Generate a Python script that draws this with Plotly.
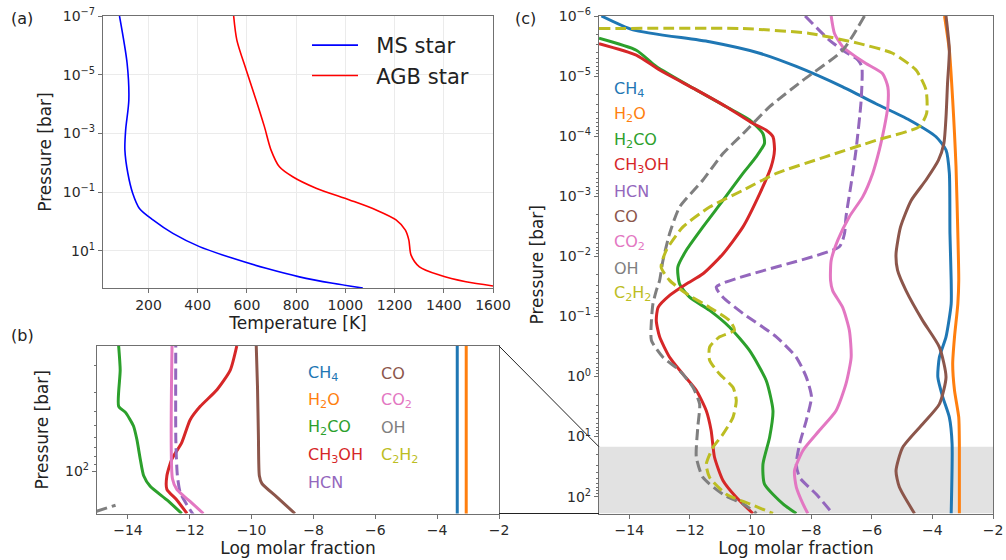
import numpy as np
import plotly.graph_objects as go

# ---------------- data ----------------
# Panel (a): temperature profiles (T in K, log10 pressure in bar)
ms_T = [82, 113, 120, 107, 104, 116, 136, 163, 218, 299, 407, 543, 678, 813, 949, 1071]
ms_logp = [-7, -5.39, -4.14, -3.11, -2.43, -1.64, -0.95, -0.44, -0.05, 0.41, 0.86, 1.26, 1.60, 1.89, 2.11, 2.27]
agb_T = [546, 559, 597, 637, 671, 698, 732, 786, 881, 1017, 1125, 1206, 1244, 1258, 1267, 1301, 1382, 1490, 1600]
agb_logp = [-7, -6.18, -5.16, -4.14, -3.23, -2.43, -1.86, -1.52, -1.13, -0.73, -0.39, -0.05, 0.30, 0.64, 1.15, 1.55, 1.83, 2.06, 2.20]

species = ["CH4", "H2O", "H2CO", "CH3OH", "HCN", "CO", "CO2", "OH", "C2H2"]
species_labels = ["CH<sub>4</sub>", "H<sub>2</sub>O", "H<sub>2</sub>CO", "CH<sub>3</sub>OH", "HCN",
                  "CO", "CO<sub>2</sub>", "OH", "C<sub>2</sub>H<sub>2</sub>"]

# Panel (b): log molar fraction vs log10 pressure (deep zoom)
b_ch4_x = [-3.35, -3.35];  b_ch4_lp = [1.0, 2.4]
b_h2o_x = [-3.06, -3.06];  b_h2o_lp = [1.0, 2.4]
b_h2co_x = [-14.30, -14.25, -14.30, -14.08, -13.82, -13.71, -13.60, -13.49, -13.28, -12.74, -12.26]
b_h2co_lp = [1.17, 1.33, 1.57, 1.61, 1.70, 1.79, 1.92, 2.03, 2.10, 2.19, 2.28]
b_ch3oh_x = [-10.48, -10.69, -11.12, -11.66, -11.99, -12.26, -12.58, -12.74, -12.74, -12.42, -12.09]
b_ch3oh_lp = [1.17, 1.33, 1.46, 1.57, 1.66, 1.81, 1.92, 2.03, 2.12, 2.19, 2.28]
b_hcn_x = [-12.45, -12.45, -12.40, -12.31, -12.10, -11.88]
b_hcn_lp = [1.0, 1.80, 2.03, 2.14, 2.22, 2.29]
b_co_x = [-9.85, -9.81, -9.78, -9.75, -9.67, -9.19, -8.60]
b_co_lp = [1.17, 1.44, 1.77, 2.03, 2.08, 2.17, 2.28]
b_co2_x = [-12.56, -12.56, -12.42, -11.99, -11.56]
b_co2_lp = [1.0, 2.05, 2.12, 2.20, 2.28]
b_oh_x = [-16.0, -14.4]
b_oh_lp = [2.33, 2.225]

# Panel (c): log molar fraction vs log10 pressure
c_ch4_x = [-14.92, -13.88, -11.35, -9.70, -8.49, -6.96, -5.86, -4.76, -3.88, -3.55, -3.44, -3.42, -3.38,
           -3.38, -3.55, -3.77, -3.82, -3.66, -3.44, -3.35, -3.38]
c_ch4_lp = [-6, -5.77, -5.57, -5.38, -5.16, -4.82, -4.54, -4.27, -3.99, -3.77, -3.38, -2.38, -1.6,
            -1.21, -0.66, -0.32, 0.01, 0.34, 0.68, 1.12, 2.28]
c_h2o_x = [-3.60, -3.44, -3.33, -3.27, -3.22, -3.16, -3.13, -3.16, -3.27, -3.33, -3.27, -3.13, -3.11, -3.11]
c_h2o_lp = [-6, -5.43, -4.6, -4.04, -3.49, -2.38, -1.6, -1.21, -0.66, -0.21, 0.23, 0.68, 1.12, 2.28]
c_h2co_x = [-15, -13.77, -13.11, -11.79, -10.80, -10.03, -9.59, -9.54, -9.81, -10.25, -10.91, -11.57, -12.12,
            -12.40, -12.34, -12.01, -11.35, -10.69, -10.03, -9.48, -9.26, -9.37, -9.59, -9.54, -8.93, -8.49]
c_h2co_lp = [-5.63, -5.43, -5.16, -4.77, -4.49, -4.27, -4.04, -3.88, -3.66, -3.38, -2.93, -2.49, -2.10,
             -1.82, -1.54, -1.32, -1.1, -0.82, -0.43, 0.07, 0.57, 1.01, 1.46, 1.79, 2.12, 2.28]
c_ch3oh_x = [-15, -13.77, -13.0, -11.79, -10.80, -9.92, -9.48, -9.26, -9.21, -9.32, -9.70, -10.25, -10.91,
             -11.57, -12.12, -12.67, -13.05, -13.11, -13.0, -12.67, -12.23, -11.79, -11.46, -11.30, -11.19,
             -10.91, -10.47, -9.92]
c_ch3oh_lp = [-5.54, -5.35, -5.1, -4.77, -4.49, -4.21, -4.1, -3.99, -3.77, -3.49, -3.04, -2.49, -2.04,
              -1.71, -1.54, -1.35, -1.15, -0.93, -0.66, -0.32, -0.04, 0.23, 0.57, 0.9, 1.34,
              1.73, 2.01, 2.28]
c_hcn_x = [-8.20, -7.40, -6.96, -6.46, -6.33, -6.35, -6.52, -6.68, -6.85, -6.90, -7.07, -11.13, -10.91,
           -10.25, -9.15, -8.49, -8.16, -7.99, -8.16, -8.38, -8.49, -8.38, -7.83, -7.29]
c_hcn_lp = [-6.0, -5.6, -5.43, -5.27, -5.16, -4.6, -3.77, -3.21, -2.66, -2.38, -2.16, -1.49, -1.32,
            -1.05, -0.66, -0.32, 0.01, 0.34, 0.73, 1.12, 1.46, 1.68, 1.96, 2.28]
c_co_x = [-3.55, -3.44, -3.50, -3.55, -3.62, -3.80, -4.21, -4.70, -5.05, -5.2, -5.15, -4.87, -4.32, -3.77,
          -3.55, -3.77, -4.32, -4.98, -5.2, -5.09, -4.59]
c_co_lp = [-6, -5.43, -4.88, -4.32, -3.88, -3.6, -3.27, -2.93, -2.49, -2.04, -1.77, -1.43, -0.93, -0.49,
           0.01, 0.46, 0.79, 1.18, 1.57, 1.84, 2.28]
c_co2_x = [-7.34, -7.23, -6.96, -6.52, -6.19, -5.64, -5.47, -5.47, -5.58, -5.75, -5.97, -6.3, -6.74, -7.12,
           -7.34, -7.36, -7.29, -6.96, -6.74, -6.68, -6.85, -7.18, -7.73, -8.27, -8.55, -8.49, -8.27, -8.11]
c_co2_lp = [-6, -5.71, -5.49, -5.32, -5.21, -5.04, -4.82, -4.49, -4.16, -3.77, -3.38, -2.99, -2.66, -2.27,
            -1.93, -1.6, -1.43, -1.15, -0.77, -0.32, 0.12, 0.57, 0.9, 1.23, 1.57, 1.84, 2.12, 2.28]
c_oh_x = [-6.24, -6.96, -8.27, -9.37, -10.25, -10.91, -11.57, -12.34, -12.67, -12.89, -13.0, -13.11, -13.22,
          -13.27, -13.27, -12.89, -12.34, -11.90, -11.68, -11.74, -11.79, -11.57, -10.91, -10.25, -9.8]
c_oh_lp = [-6, -5.43, -4.93, -4.49, -4.04, -3.71, -3.27, -2.82, -2.38, -1.93, -1.6, -1.43, -1.21,
           -0.93, -0.6, -0.32, -0.1, 0.18, 0.46, 0.84, 1.34, 1.68, 1.96, 2.12, 2.28]
c_c2h2_x = [-15, -10.25, -8.05, -6.40, -5.31, -4.54, -4.21, -4.19, -4.43, -5.86, -7.51, -9.15, -10.25, -11.35,
            -12.23, -12.78, -12.95, -12.67, -12.12, -11.35, -10.69, -10.53, -11.02, -11.35, -11.35, -11.02,
            -10.58, -10.47, -10.58, -10.91, -11.24, -11.46, -11.35, -10.80, -10.03, -9.26]
c_c2h2_lp = [-5.79, -5.79, -5.71, -5.54, -5.38, -5.1, -4.77, -4.38, -4.16, -3.93, -3.66, -3.38, -3.1, -2.82,
             -2.49, -2.1, -1.82, -1.6, -1.38, -1.15, -0.93, -0.77, -0.66, -0.49, -0.27, -0.04,
             0.18, 0.4, 0.68, 0.96, 1.18, 1.46, 1.68, 1.96, 2.12, 2.28]

# axis ranges (log10 pressure) and shaded zoom window
a_lp_range = [-7, 2.27]
b_lp_range = [1.17, 2.28]
c_lp_range = [-6, 2.28]
zoom_lp = [1.17, 2.28]
temp_range = [15, 1600]
frac_range = [-15, -2]

temp_ticks = [200, 400, 600, 800, 1000, 1200, 1400, 1600]
frac_ticks = [-14, -12, -10, -8, -6, -4, -2]
a_p_ticks = [-7, -5, -3, -1, 1]
b_p_ticks = [2]
c_p_ticks = [-6, -5, -4, -3, -2, -1, 0, 1, 2]

# ---------------- styling ----------------
FONT = "DejaVu Sans, Arial, sans-serif"
col = {"CH4": "#1f77b4", "H2O": "#ff7f0e", "H2CO": "#2ca02c", "CH3OH": "#d62728", "HCN": "#9467bd",
       "CO": "#8c564b", "CO2": "#e377c2", "OH": "#7f7f7f", "C2H2": "#bcbd22"}
dashed = {"HCN", "OH", "C2H2"}
AX = "#707070"

W, H = 1006, 560
def px2x(px): return px / W
def py2y(py): return 1 - py / H

dom_a = dict(x=[px2x(103), px2x(493)], y=[py2y(288), py2y(16)])
dom_b = dict(x=[px2x(97), px2x(499)], y=[py2y(513.5), py2y(346)])
dom_c = dict(x=[px2x(599), px2x(993)], y=[py2y(513.5), py2y(16)])

fig = go.Figure()

def P(lp):
    return [10 ** v for v in lp]

NB = "\u00a0\u00a0"
# panel (a)
fig.add_trace(go.Scatter(x=ms_T, y=P(ms_logp), mode="lines", name=NB + "MS star",
                         line=dict(color="#0000ff", width=1.6, shape="spline", smoothing=0.8),
                         xaxis="x", yaxis="y"))
fig.add_trace(go.Scatter(x=agb_T, y=P(agb_logp), mode="lines", name=NB + "AGB star",
                         line=dict(color="#ff0000", width=1.6, shape="spline", smoothing=0.8),
                         xaxis="x", yaxis="y"))

b_data = {"CH4": (b_ch4_x, b_ch4_lp), "H2O": (b_h2o_x, b_h2o_lp), "H2CO": (b_h2co_x, b_h2co_lp),
          "CH3OH": (b_ch3oh_x, b_ch3oh_lp), "HCN": (b_hcn_x, b_hcn_lp), "CO": (b_co_x, b_co_lp),
          "CO2": (b_co2_x, b_co2_lp), "OH": (b_oh_x, b_oh_lp)}
c_data = {"CH4": (c_ch4_x, c_ch4_lp), "H2O": (c_h2o_x, c_h2o_lp), "H2CO": (c_h2co_x, c_h2co_lp),
          "CH3OH": (c_ch3oh_x, c_ch3oh_lp), "HCN": (c_hcn_x, c_hcn_lp), "CO": (c_co_x, c_co_lp),
          "CO2": (c_co2_x, c_co2_lp), "OH": (c_oh_x, c_oh_lp), "C2H2": (c_c2h2_x, c_c2h2_lp)}

for data, xa, ya in [(b_data, "x2", "y2"), (c_data, "x3", "y3")]:
    for sp in species:
        if sp not in data:
            continue
        xs, lps = data[sp]
        fig.add_trace(go.Scatter(
            x=xs, y=P(lps), mode="lines", showlegend=False, name=sp,
            line=dict(color=col[sp], width=3, shape="spline", smoothing=0.6,
                      dash="11px,5px" if sp in dashed else "solid"),
            xaxis=xa, yaxis=ya, cliponaxis=True))

# ---------------- axes ----------------
def sup(v):
    s = str(v).replace("-", "\u2212")
    return f"10<sup>{s}</sup>"

def minor_vals(lo, hi):
    vals = []
    for k in range(int(np.floor(lo)), int(np.ceil(hi)) + 1):
        for d in range(2, 10):
            v = d * 10.0 ** k
            if lo <= np.log10(v) <= hi:
                vals.append(v)
    return vals

base = dict(showline=True, linecolor=AX, linewidth=1.3, mirror=True, ticks="outside", ticklen=4,
            tickcolor=AX, tickwidth=1, zeroline=False, automargin=False,
            tickfont=dict(family=FONT, size=14, color="#2a2a2a"))
title_font = dict(family=FONT, size=17, color="#222")

fig.update_layout(
    xaxis=dict(base, domain=dom_a["x"], range=temp_range, tickvals=temp_ticks, anchor="y",
               showgrid=True, gridcolor="#ebebeb", gridwidth=1,
               title=dict(text="Temperature [K]", font=title_font, standoff=2)),
    yaxis=dict(base, domain=dom_a["y"], type="log", range=a_lp_range[::-1], anchor="x",
               tickvals=[10 ** v for v in a_p_ticks], ticktext=[sup(v) for v in a_p_ticks],
               showgrid=True, gridcolor="#ebebeb", gridwidth=1,
               title=dict(text="Pressure [bar]", font=title_font, standoff=6)),
    xaxis2=dict(base, domain=dom_b["x"], range=frac_range, tickvals=frac_ticks,
                ticktext=[str(v).replace("-", "\u2212") for v in frac_ticks], anchor="y2",
                showgrid=False, title=dict(text="Log molar fraction", font=title_font, standoff=2)),
    yaxis2=dict(base, domain=dom_b["y"], type="log", range=b_lp_range[::-1], anchor="x2",
                tickvals=[10 ** v for v in b_p_ticks], ticktext=[sup(v) for v in b_p_ticks],
                minor=dict(ticks="outside", ticklen=2, tickcolor=AX, tickvals=minor_vals(*b_lp_range)),
                showgrid=False, title=dict(text="Pressure [bar]", font=title_font, standoff=12)),
    xaxis3=dict(base, domain=dom_c["x"], range=frac_range, tickvals=frac_ticks,
                ticktext=[str(v).replace("-", "\u2212") for v in frac_ticks], anchor="y3",
                showgrid=False, title=dict(text="Log molar fraction", font=title_font, standoff=2)),
    yaxis3=dict(base, domain=dom_c["y"], type="log", range=c_lp_range[::-1], anchor="x3",
                tickvals=[10 ** v for v in c_p_ticks], ticktext=[sup(v) for v in c_p_ticks],
                minor=dict(ticks="outside", ticklen=2, tickcolor=AX, tickvals=minor_vals(*c_lp_range)),
                showgrid=False, title=dict(text="Pressure [bar]", font=title_font, standoff=10)),
)

# shaded zoom window in (c)
fig.add_shape(type="rect", xref="x3 domain", yref="y3", x0=0, x1=1,
              y0=10 ** zoom_lp[0], y1=10 ** zoom_lp[1],
              fillcolor="#e2e2e2", line=dict(width=0), layer="below")

# connector lines between (b) and (c)
frac_top = (zoom_lp[0] - c_lp_range[0]) / (c_lp_range[1] - c_lp_range[0])
c_zoom_top_y = dom_c["y"][1] - frac_top * (dom_c["y"][1] - dom_c["y"][0])
fig.add_shape(type="line", xref="paper", yref="paper", x0=dom_b["x"][1], y0=dom_b["y"][1],
              x1=dom_c["x"][0], y1=c_zoom_top_y, line=dict(color="#222", width=1))
fig.add_shape(type="line", xref="paper", yref="paper", x0=dom_b["x"][1], y0=dom_b["y"][0],
              x1=dom_c["x"][0], y1=dom_c["y"][0], line=dict(color="#222", width=1))

# species labels
ann = []
for i, (sp, lab) in enumerate(zip(species, species_labels)):
    yy = 89 + i * 25.6
    ann.append(dict(text=lab, x=px2x(612), y=py2y(yy), xref="paper", yref="paper",
                    xanchor="left", yanchor="middle", showarrow=False,
                    font=dict(family=FONT, size=16, color=col[sp])))
for i, (sp, lab) in enumerate(zip(species, species_labels)):
    if i < 5:
        xx, yy = 306, 373 + i * 27.4
    else:
        xx, yy = 379, 373 + (i - 5) * 27.4
    ann.append(dict(text=lab, x=px2x(xx), y=py2y(yy), xref="paper", yref="paper",
                    xanchor="left", yanchor="middle", showarrow=False,
                    font=dict(family=FONT, size=16, color=col[sp])))
for lab, xx, yy in [("(a)", 9, 18), ("(b)", 9, 335), ("(c)", 513, 18)]:
    ann.append(dict(text=lab, x=px2x(xx), y=py2y(yy), xref="paper", yref="paper",
                    xanchor="left", yanchor="middle", showarrow=False,
                    font=dict(family=FONT, size=16, color="#222")))

fig.update_layout(
    annotations=ann,
    width=W, height=H,
    margin=dict(l=0, r=0, t=0, b=0),
    paper_bgcolor="white", plot_bgcolor="white",
    template="none",
    font=dict(family=FONT, color="#222"),
    showlegend=True,
    legend=dict(x=px2x(307), y=py2y(25), xanchor="left", yanchor="top",
                bgcolor="rgba(0,0,0,0)", borderwidth=0,
                font=dict(family=FONT, size=21, color="#222"), itemwidth=46, tracegroupgap=0),
)

fig.write_html("out.html", config={"displayModeBar": False},
               post_script="document.body.style.margin='0';document.body.style.overflow='hidden';")
